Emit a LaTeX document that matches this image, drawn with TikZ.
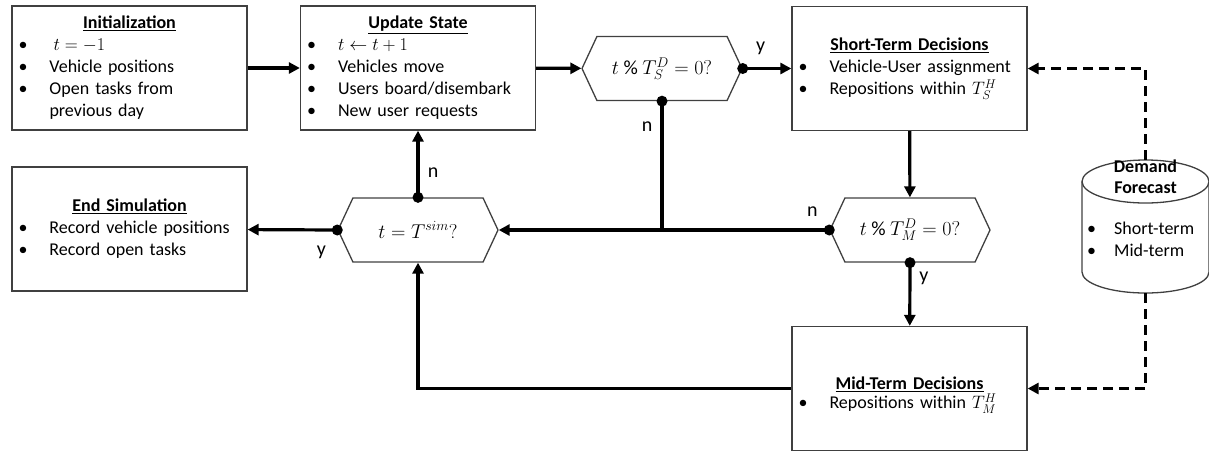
\documentclass[tikz,border=0pt]{standalone}
\usepackage{fix-cm}
\usepackage{fontspec}
\setmainfont{Carlito}
\usetikzlibrary{shapes.symbols,arrows.meta}
\newcommand{\itm}[1]{\makebox[31pt][l]{\textbullet}#1}
\newcommand{\ttl}[1]{\makebox[222pt]{\underline{\textbf{#1}}}}
\begin{document}
\begin{tikzpicture}[
  x=1pt, y=-1pt,
  box/.style={draw=black!75, line width=1.3pt, minimum width=235pt, minimum height=124pt,
    text width=222pt, inner xsep=6.5pt, align=left, font=\fontsize{18}{22}\selectfont},
  hexbox/.style={draw=black!75, line width=1.3pt, signal, signal to=west and east,
    signal pointer angle=130, minimum width=160pt, minimum height=64pt, inner sep=0pt,
    font=\fontsize{20}{22}\selectfont},
  outline/.style={draw=black!75, line width=1.3pt},
  conn/.style={line width=3.2pt, -{Triangle[length=11pt,width=11pt]}},
  plain/.style={line width=3.2pt},
  dashconn/.style={conn, dash pattern=on 10pt off 6pt},
  lbl/.style={font=\fontsize{20}{22}\selectfont, inner sep=0pt}
]
\useasboundingbox (0,0) rectangle (1209,451);

% process boxes
\node[box] (init) at (129.5,68) {\ttl{Initialization}\\ \itm{\hspace{4pt}$t=-1$}\\
  \itm{Vehicle positions}\\ \itm{Open tasks from}\\ \hspace*{31pt}previous day};
\node[box] (upd) at (418,68) {\ttl{Update State}\\ \itm{$t \leftarrow t+1$}\\
  \itm{Vehicles move}\\ \itm{Users board/disembark}\\ \itm{New user requests}};
\node[box] (st) at (909.5,68.5) {\ttl{Short-Term Decisions}\\ \itm{Vehicle-User assignment}\\
  \itm{Repositions within $T_S^H$}};
\node[box] (endsim) at (129.5,229) {\ttl{End Simulation}\\ \itm{Record vehicle positions}\\
  \itm{Record open tasks}};
\node[box] (mid) at (909.5,388.5) {};
\node[text width=222pt, align=left, font=\fontsize{18}{22}\selectfont] (midtxt) at (909.5,395)
  {\ttl{Mid-Term Decisions}\\[-3pt] \itm{Repositions within $T_M^H$}};

% decisions
\node[hexbox] (hexS) at (662,68.5) {$t\ \%\ T_S^D = 0?$};
\node[hexbox] (hexT) at (418,230) {$t = T^{sim}?$};
\node[hexbox] (hexM) at (910,230) {$t\ \%\ T_M^D = 0?$};

% forecast store
\node[minimum width=127pt, minimum height=133pt, inner sep=0pt] (fc) at (1145.5,226.5) {};
\draw[outline] (1145.5,181.5) ellipse [x radius=63.5pt, y radius=21.5pt];
\draw[outline] (1082,181.5) -- (1082,272)
  .. controls (1082,283.6) and (1110.4,293) .. (1145.5,293)
  .. controls (1180.6,293) and (1209,283.6) .. (1209,272) -- (1209,181.5);
\node[font=\fontsize{18}{21}\selectfont\bfseries, align=center, inner sep=0pt] (fctitle) at (1145.5,177)
  {Demand\\Forecast};
\node[font=\fontsize{18}{22}\selectfont, align=left, anchor=west, inner sep=0pt] (fcitems) at (1087,239)
  {\makebox[27pt][l]{\textbullet}Short-term\\ \makebox[27pt][l]{\textbullet}Mid-term};

% connectors
\coordinate (jn) at (hexS.south |- hexM.west);
\draw[conn] (init) -- (upd);
\draw[conn] (upd) -- (hexS);
\draw[conn] (hexS.east) -- (st);
\draw[conn] (st) -- (hexM);
\draw[conn] (hexM.south) -- (mid);
\draw[conn] (hexM.west) -- (hexT.east);
\draw[plain] (hexS.south) -- (jn);
\draw[conn] (hexT.north) -- (hexT.north |- upd.south);
\draw[conn] (hexT.west) -- (endsim);
\draw[conn] (mid.west) -| (hexT.south);
\draw[dashconn] (fc.north) |- (st.east);
\draw[dashconn] (fc.south) |- (mid.east);

\foreach \p in {hexS.east, hexS.south, hexT.north, hexT.west, hexM.west, hexM.south}
  \fill (\p) circle (5.5pt);

% branch labels
\node[lbl, xshift=18pt, yshift=20pt] (ys) at (hexS.east) {y};
\node[lbl, xshift=-15pt, yshift=-25pt] (ns) at (hexS.south) {n};
\node[lbl, xshift=15pt, yshift=25pt] (nt) at (hexT.north) {n};
\node[lbl, xshift=-16pt, yshift=-22pt] (yt) at (hexT.west) {y};
\node[lbl, xshift=-17pt, yshift=18pt] (nm) at (hexM.west) {n};
\node[lbl, xshift=14pt, yshift=-16pt] (ym) at (hexM.south) {y};
\end{tikzpicture}
\end{document}
